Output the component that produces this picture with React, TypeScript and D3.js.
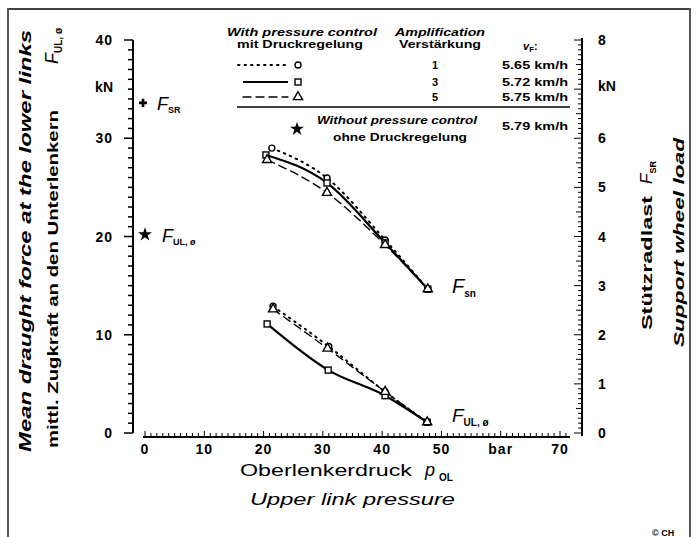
import React from "react";
import * as d3 from "d3";

// ---------- data ----------
const xTickValues = [0, 10, 20, 30, 40, 50, 60, 70];
const xTickLabels = ["0", "10", "20", "30", "40", "50", "bar", "70"];
const leftTickValues = [0, 10, 20, 30, 40];
const rightTickValues = [0, 1, 2, 3, 4, 5, 6, 8];

// support wheel load F_SR (right axis, kN) vs upper link pressure (bar)
const fsrAmp1 = [
  { p: 21.4, v: 5.8 },
  { p: 30.7, v: 5.19 },
  { p: 40.5, v: 3.93 },
  { p: 47.7, v: 2.93 },
];
const fsrAmp3 = [
  { p: 20.4, v: 5.66 },
  { p: 30.7, v: 5.09 },
  { p: 40.5, v: 3.87 },
  { p: 47.7, v: 2.93 },
];
const fsrAmp5 = [
  { p: 20.6, v: 5.56 },
  { p: 30.7, v: 4.89 },
  { p: 40.5, v: 3.83 },
  { p: 47.7, v: 2.93 },
];

// mean draught force F_UL (left axis, kN)
const fulAmp1 = [
  { p: 21.6, v: 12.9 },
  { p: 31.0, v: 8.8 },
  { p: 40.5, v: 4.2 },
  { p: 47.6, v: 1.1 },
];
const fulAmp3 = [
  { p: 20.6, v: 11.1 },
  { p: 30.9, v: 6.4 },
  { p: 40.5, v: 3.8 },
  { p: 47.6, v: 1.1 },
];
const fulAmp5 = [
  { p: 21.6, v: 12.6 },
  { p: 30.8, v: 8.6 },
  { p: 40.5, v: 4.2 },
  { p: 47.6, v: 1.1 },
];

// without pressure control (left axis, kN)
const noControlFsr = 33.6;
const noControlFul = 20.2;

const amplifications = ["1", "3", "5"];
const speeds = ["5.65 km/h", "5.72 km/h", "5.75 km/h"];
const noControlSpeed = "5.79 km/h";

// ---------- scales ----------
const x = d3.scaleLinear().domain([0, 70]).range([145, 560]);
const yL = d3.scaleLinear().domain([0, 40]).range([433, 40]);
const yR = d3.scaleLinear().domain([0, 8]).range([433, 40]);

const FONT = "'Liberation Sans', Arial, sans-serif";

type Pt = { p: number; v: number };
type Kind = "circle" | "square" | "triangle";

const styles: { dash: string; width: number; kind: Kind }[] = [
  { dash: "1.5,5", width: 2, kind: "circle" },
  { dash: "", width: 2.2, kind: "square" },
  { dash: "8,5", width: 1.4, kind: "triangle" },
];

function Marker({ kind, cx, cy }: { kind: Kind; cx: number; cy: number }) {
  if (kind === "circle")
    return <circle cx={cx} cy={cy} r={3} fill="white" stroke="black" strokeWidth={1.4} />;
  if (kind === "square")
    return <rect x={cx - 3} y={cy - 3} width={6} height={6} fill="white" stroke="black" strokeWidth={1.4} />;
  const tri = d3.symbol().type(d3.symbolTriangle).size(36)() as string;
  return <path d={tri} transform={`translate(${cx},${cy})`} fill="white" stroke="black" strokeWidth={1.4} />;
}

function Series({ data, y, idx }: { data: Pt[]; y: d3.ScaleLinear<number, number>; idx: number }) {
  const st = styles[idx];
  const line = d3
    .line<Pt>()
    .x((d) => x(d.p))
    .y((d) => y(d.v))
    .curve(d3.curveMonotoneX);
  return (
    <g>
      <path d={line(data) as string} fill="none" stroke="black" strokeWidth={st.width} strokeDasharray={st.dash || undefined} strokeLinecap={st.dash ? "round" : "butt"} />
      {data.map((d, i) => (
        <Marker key={i} kind={st.kind} cx={x(d.p)} cy={y(d.v)} />
      ))}
    </g>
  );
}

function VText({ x0, y0, len, children, size, weight = "bold", italic = false }: any) {
  return (
    <text
      transform={`translate(${x0},${y0}) rotate(-90)`}
      fontFamily={FONT}
      fontSize={size}
      fontWeight={weight}
      fontStyle={italic ? "italic" : "normal"}
      textLength={len}
      lengthAdjust="spacingAndGlyphs"
    >
      {children}
    </text>
  );
}

export default function App() {
  const star = d3.symbol().type(d3.symbolStar).size(60)() as string;
  const cross = d3.symbol().type(d3.symbolCross).size(36)() as string;

  const leftMinor = d3.range(0, 41, 1);
  const rightMinor = d3.range(0, 81, 1).map((d) => d / 10);
  const bottomMinor = d3.range(0, 72, 1);

  const legendRows = [65, 82, 97];

  return (
    <svg width={696} height={537} style={{ position: "absolute", left: 0, top: 0, background: "white" }}>
      {/* frame */}
      <line x1={8} y1={9} x2={690} y2={9} stroke="black" strokeWidth={1.5} />
      <line x1={8} y1={8} x2={8} y2={537} stroke="#555" strokeWidth={2} />
      <line x1={690} y1={8} x2={690} y2={537} stroke="#555" strokeWidth={2} />

      {/* left axis */}
      <line x1={133} y1={yL(40)} x2={133} y2={yL(0)} stroke="black" strokeWidth={2} />
      {leftMinor.map((v) => (
        <line key={v} x1={133 - (v % 10 === 0 ? 9 : 5)} x2={133} y1={yL(v)} y2={yL(v)} stroke="black" strokeWidth={1.5} />
      ))}
      {leftTickValues.map((v) => (
        <text key={v} x={113} y={yL(v) + 5} textAnchor="end" fontFamily={FONT} fontSize={14} fontWeight="bold" letterSpacing={1}>
          {v}
        </text>
      ))}
      <text x={113} y={92} textAnchor="end" fontFamily={FONT} fontSize={14} fontWeight="bold">kN</text>

      {/* right axis */}
      <line x1={582} y1={yR(8) - 2} x2={582} y2={yR(0) + 3} stroke="black" strokeWidth={2} />
      {rightMinor.map((v, i) => (
        <line key={i} x1={582 - (i % 10 === 0 ? 8 : i % 5 === 0 ? 6 : 4)} x2={582} y1={yR(v)} y2={yR(v)} stroke="black" strokeWidth={1} />
      ))}
      {rightTickValues.map((v) => (
        <text key={v} x={598} y={yR(v) + 5} fontFamily={FONT} fontSize={14} fontWeight="bold">
          {v}
        </text>
      ))}
      <text x={598} y={91} fontFamily={FONT} fontSize={14} fontWeight="bold">kN</text>

      {/* bottom axis */}
      <line x1={143} y1={437} x2={570} y2={437} stroke="black" strokeWidth={2} />
      {bottomMinor.map((v) => (
        <line key={v} x1={x(v)} x2={x(v)} y1={437} y2={437 - (v % 10 === 0 ? 6 : 4)} stroke="black" strokeWidth={1} />
      ))}
      {xTickValues.map((v, i) => (
        <text key={v} x={x(v)} y={454} textAnchor="middle" fontFamily={FONT} fontSize={14} fontWeight="bold" letterSpacing={1}>
          {xTickLabels[i]}
        </text>
      ))}

      {/* x title */}
      <text x={240} y={476} fontFamily={FONT} fontSize={17} textLength={172} lengthAdjust="spacingAndGlyphs">Oberlenkerdruck</text>
      <text x={425} y={476} fontFamily={FONT} fontSize={18} fontStyle="italic">p</text>
      <text x={439} y={481} fontFamily={FONT} fontSize={10} fontWeight="bold">OL</text>
      <text x={250} y={505} fontFamily={FONT} fontSize={17} fontStyle="italic" textLength={205} lengthAdjust="spacingAndGlyphs">Upper link pressure</text>

      {/* left titles */}
      <VText x0={31} y0={452} len={422} size={16} italic>Mean draught force at the lower links</VText>
      <VText x0={58} y0={448} len={338} size={15}>mittl. Zugkraft an den Unterlenkern</VText>
      <text transform="translate(58,64) rotate(-90)" fontFamily={FONT}>
        <tspan fontSize={18} fontStyle="italic">F</tspan>
        <tspan fontSize={10} fontWeight="bold" dy={4}>UL, ø</tspan>
      </text>

      {/* right titles */}
      <VText x0={652} y0={330} len={134} size={15}>Stützradlast</VText>
      <text transform="translate(652,184) rotate(-90)" fontFamily={FONT}>
        <tspan fontSize={17} fontStyle="italic">F</tspan>
        <tspan fontSize={9} fontWeight="bold" dy={4}>SR</tspan>
      </text>
      <VText x0={684} y0={347} len={209} size={15} italic>Support wheel load</VText>

      {/* curves */}
      <Series data={fsrAmp1} y={yR} idx={0} />
      <Series data={fsrAmp3} y={yR} idx={1} />
      <Series data={fsrAmp5} y={yR} idx={2} />
      <Series data={fulAmp1} y={yL} idx={0} />
      <Series data={fulAmp3} y={yL} idx={1} />
      <Series data={fulAmp5} y={yL} idx={2} />

      {/* curve labels */}
      <text x={452} y={293} fontFamily={FONT}>
        <tspan fontSize={20} fontStyle="italic">F</tspan>
        <tspan fontSize={10} fontWeight="bold" dy={4}>sn</tspan>
      </text>
      <text x={452} y={422} fontFamily={FONT}>
        <tspan fontSize={19} fontStyle="italic">F</tspan>
        <tspan fontSize={10} fontWeight="bold" dy={4}>UL, ø</tspan>
      </text>

      {/* without pressure control points */}
      <path d={cross} transform={`translate(${x(0) - 2},${yL(noControlFsr)})`} fill="black" />
      <text x={157} y={yL(noControlFsr) + 7} fontFamily={FONT}>
        <tspan fontSize={18} fontStyle="italic">F</tspan>
        <tspan fontSize={9} fontWeight="bold" dy={3}>SR</tspan>
      </text>
      <path d={star} transform={`translate(${x(0)},${yL(noControlFul)})`} fill="black" />
      <text x={162} y={yL(noControlFul) + 7} fontFamily={FONT}>
        <tspan fontSize={18} fontStyle="italic">F</tspan>
        <tspan fontSize={9} fontWeight="bold" dy={3}>UL, ø</tspan>
      </text>

      {/* legend */}
      <g fontFamily={FONT} fontWeight="bold">
        <text x={302} y={36} fontSize={11} fontStyle="italic" textAnchor="middle" textLength={150} lengthAdjust="spacingAndGlyphs">With pressure control</text>
        <text x={300} y={48} fontSize={11} textAnchor="middle" textLength={126} lengthAdjust="spacingAndGlyphs">mit Druckregelung</text>
        <text x={440} y={36} fontSize={11} fontStyle="italic" textAnchor="middle" textLength={90} lengthAdjust="spacingAndGlyphs">Amplification</text>
        <text x={440} y={48} fontSize={11} textAnchor="middle" textLength={82} lengthAdjust="spacingAndGlyphs">Verstärkung</text>
        <text x={523} y={50} fontSize={11}>
          <tspan fontStyle="italic">v</tspan>
          <tspan fontSize={8} dy={2}>F</tspan>
          <tspan dy={-2}>:</tspan>
        </text>
        {legendRows.map((ry, i) => (
          <g key={i}>
            <line x1={i === 0 ? 238 : 243} x2={288} y1={ry} y2={ry} stroke="black" strokeWidth={styles[i].width} strokeDasharray={styles[i].dash || undefined} strokeLinecap={styles[i].dash ? "round" : "butt"} />
            <Marker kind={styles[i].kind} cx={298} cy={ry} />
            <text x={435} y={ry + 4} fontSize={11} textAnchor="middle">{amplifications[i]}</text>
            <text x={502} y={ry + 4} fontSize={11} textLength={66} lengthAdjust="spacingAndGlyphs">{speeds[i]}</text>
          </g>
        ))}
        <line x1={237} x2={570} y1={107} y2={107} stroke="black" strokeWidth={1.5} />
        <path d={star} transform="translate(297,129)" fill="black" />
        <text x={397} y={124} fontSize={11} fontStyle="italic" textAnchor="middle" textLength={160} lengthAdjust="spacingAndGlyphs">Without pressure control</text>
        <text x={400} y={141} fontSize={11} textAnchor="middle" textLength={134} lengthAdjust="spacingAndGlyphs">ohne Druckregelung</text>
        <text x={502} y={130} fontSize={11} textLength={66} lengthAdjust="spacingAndGlyphs">{noControlSpeed}</text>
      </g>

      <text x={652} y={536} fontFamily={FONT} fontSize={9} fontWeight="bold">© CH</text>
    </svg>
  );
}
